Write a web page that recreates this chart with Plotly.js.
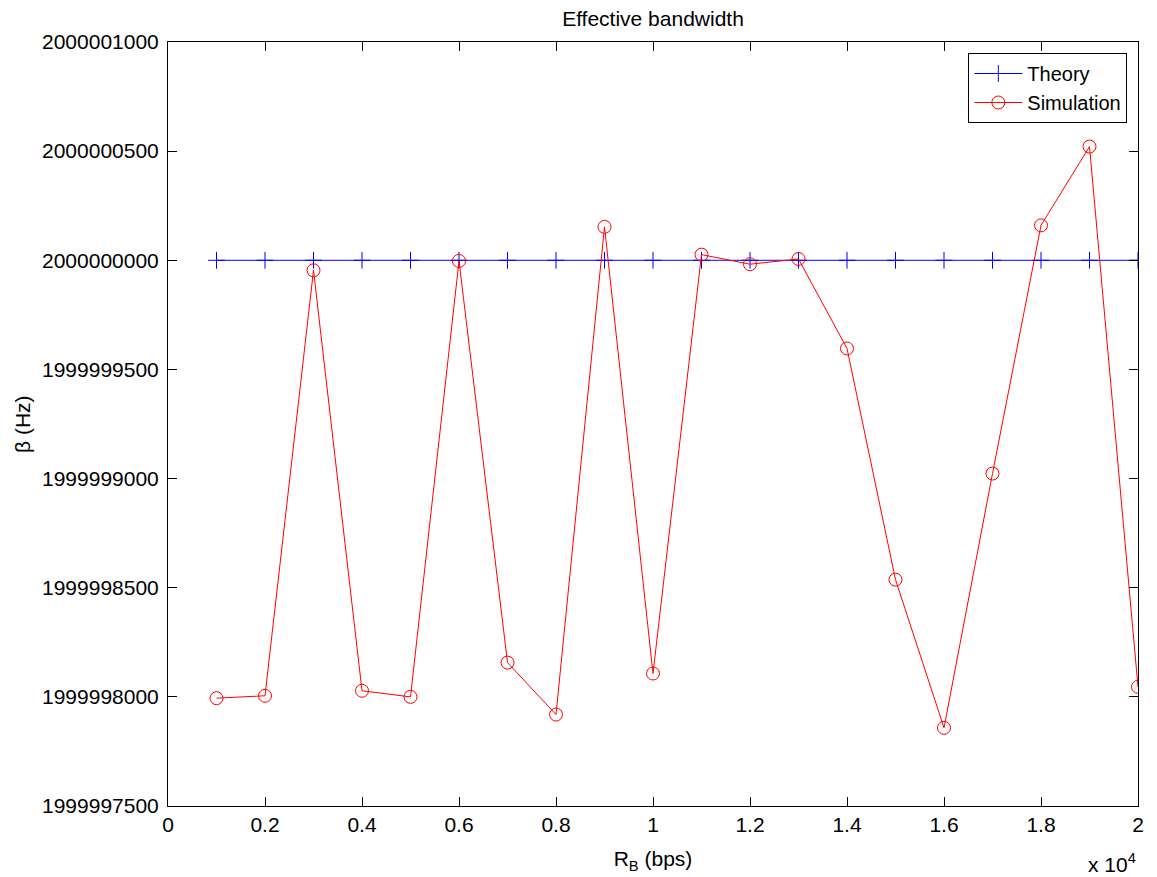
<!DOCTYPE html>
<html>
<head>
<meta charset="utf-8">
<script src="https://cdn.plot.ly/plotly-3.0.1.min.js"></script>
<style>html,body{margin:0;padding:0;background:#fff;}#chart{width:1157px;height:877px;}</style>
</head>
<body>
<div id="chart"></div>
<script>
// Data
var rateBps = [1000, 2000, 3000, 4000, 5000, 6000, 7000, 8000, 9000, 10000,
               11000, 12000, 13000, 14000, 15000, 16000, 17000, 18000, 19000, 20000];
var theoryHz = [2000000000, 2000000000, 2000000000, 2000000000, 2000000000,
                2000000000, 2000000000, 2000000000, 2000000000, 2000000000,
                2000000000, 2000000000, 2000000000, 2000000000, 2000000000,
                2000000000, 2000000000, 2000000000, 2000000000, 2000000000];
var simulationHz = [1999997994, 1999998005, 1999999954, 1999998028, 1999998000,
                    1999999997, 1999998157, 1999997919, 2000000153, 1999998107,
                    2000000026, 1999999982, 2000000006, 1999999596, 1999998537,
                    1999997858, 1999999023, 2000000160, 2000000521, 1999998046];
var xTickVals = [0, 2000, 4000, 6000, 8000, 10000, 12000, 14000, 16000, 18000, 20000];
var xTickText = ['0', '0.2', '0.4', '0.6', '0.8', '1', '1.2', '1.4', '1.6', '1.8', '2'];
var yTickVals = [1999997500, 1999998000, 1999998500, 1999999000, 1999999500,
                 2000000000, 2000000500, 2000001000];
var yTickText = ['1999997500', '1999998000', '1999998500', '1999999000', '1999999500',
                 '2000000000', '2000000500', '2000001000'];

var FONT = 'Liberation Sans, Arial, Helvetica, sans-serif';

var traces = [
  {
    x: rateBps, y: theoryHz, name: 'Theory', type: 'scatter', mode: 'lines+markers',
    line: {color: '#0000ff', width: 1},
    marker: {symbol: 'cross-thin-open', size: 12, color: '#0000ff', line: {color: '#0000ff', width: 1}}
  },
  {
    x: rateBps, y: simulationHz, name: 'Simulation', type: 'scatter', mode: 'lines+markers',
    line: {color: '#ff0000', width: 1},
    marker: {symbol: 'circle-open', size: 13, color: '#ff0000', line: {color: '#ff0000', width: 1}}
  }
];

var layout = {
  width: 1157, height: 877,
  paper_bgcolor: '#ffffff', plot_bgcolor: '#ffffff',
  font: {family: FONT, size: 21, color: '#000000'},
  margin: {l: 168, r: 19, t: 42, b: 71, pad: 0},
  showlegend: true,
  title: {text: 'Effective bandwidth', font: {family: FONT, size: 21, color: '#000'},
          x: 0.5, xref: 'paper', xanchor: 'center', y: 1, yref: 'paper', yanchor: 'bottom',
          pad: {b: 16}},
  xaxis: {
    range: [0, 20000], tickmode: 'array', tickvals: xTickVals, ticktext: xTickText,
    ticks: 'inside', ticklen: 9, tickwidth: 1, tickcolor: '#000',
    showline: true, linecolor: '#000', linewidth: 1, mirror: 'ticks',
    showgrid: false, zeroline: false,
    tickfont: {family: FONT, size: 21, color: '#000'},
    title: {text: 'R<sub>B</sub> (bps)', font: {family: FONT, size: 21, color: '#000'}, standoff: 16}
  },
  yaxis: {
    range: [1999997500, 2000001000], tickmode: 'array', tickvals: yTickVals, ticktext: yTickText,
    ticks: 'inside', ticklen: 9, tickwidth: 1, tickcolor: '#000',
    showline: true, linecolor: '#000', linewidth: 1, mirror: 'ticks',
    showgrid: false, zeroline: false,
    tickfont: {family: FONT, size: 21, color: '#000'},
    ticklabelstandoff: 4
  },
  legend: {
    x: 0.989, y: 0.9856, xanchor: 'right', yanchor: 'top',
    bgcolor: '#ffffff', bordercolor: '#000', borderwidth: 1,
    font: {family: FONT, size: 20, color: '#000'},
    tracegroupgap: 0, itemwidth: 48
  },
  annotations: [
    {text: 'x 10<sup>4</sup>', xref: 'paper', yref: 'paper', x: 1, y: -0.075,
     xanchor: 'right', yanchor: 'middle', showarrow: false,
     font: {family: FONT, size: 21, color: '#000'}},
    {text: '\u03b2 (Hz)', xref: 'paper', yref: 'paper', x: -0.1505, y: 0.5,
     xanchor: 'center', yanchor: 'middle', textangle: -90, showarrow: false,
     font: {family: FONT, size: 21, color: '#000'}}
  ]
};

Plotly.newPlot('chart', traces, layout, {displayModeBar: false, staticPlot: true});
</script>
</body>
</html>
